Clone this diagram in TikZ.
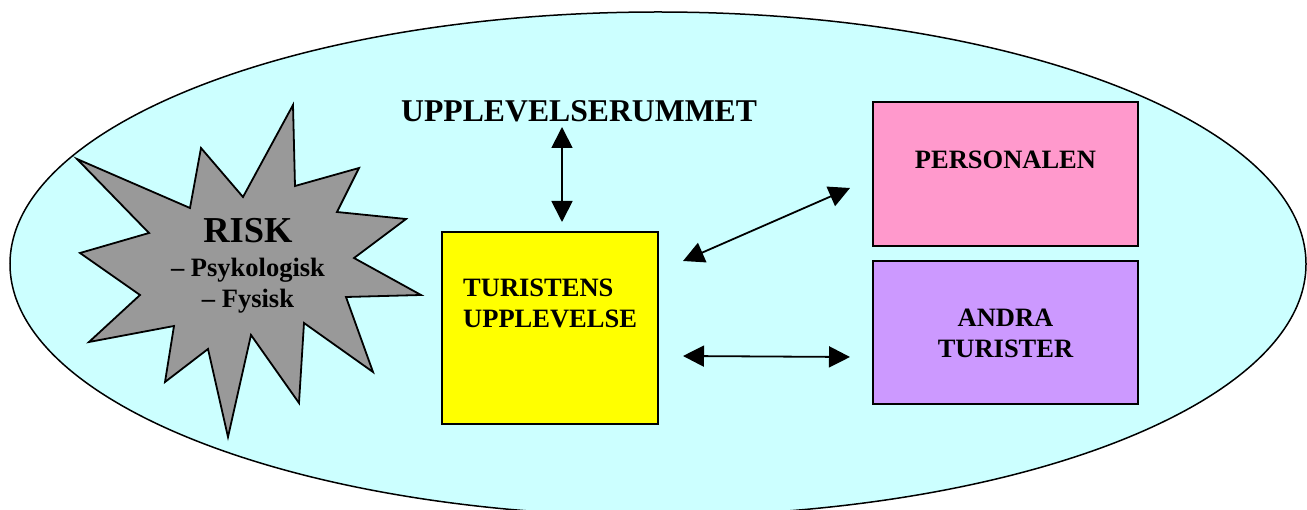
\documentclass[tikz,border=0pt]{standalone}
\usepackage{fontspec}
\setmainfont{Liberation Serif}
\usetikzlibrary{arrows.meta}
\definecolor{bgcyan}{HTML}{CCFFFF}
\definecolor{stargray}{HTML}{999999}
\definecolor{boxyellow}{HTML}{FFFF00}
\definecolor{boxpink}{HTML}{FF99CC}
\definecolor{boxpurple}{HTML}{CC99FF}
\tikzset{
  boxnode/.style={draw=black, line width=1.8pt, anchor=north west, inner sep=0pt, outer sep=0pt},
  lbl/.style={font=\bfseries\fontsize{26.5}{31}\selectfont, inner sep=0pt, align=center},
  dblarrow/.style={line width=1.8pt, {Triangle[length=21pt,width=21pt]}-{Triangle[length=21pt,width=21pt]}, shorten <=0pt, shorten >=0pt}
}
\begin{document}
\begin{tikzpicture}[x=1pt,y=-1pt]
\useasboundingbox (0,0) rectangle (1307,510);
% outer ellipse
\draw[fill=bgcyan, line width=1.5pt] (658,264) ellipse [x radius=648pt, y radius=252pt];
% star
\draw[fill=stargray, line width=1.8pt, line join=miter]
 (293,105) -- (295,186) -- (359,168) -- (337,212) -- (406,219) -- (354,258) --
 (421,295) -- (346,297) -- (373,372) -- (304,323) -- (299,403) -- (251,335) --
 (228,437) -- (208,349) -- (165,382) -- (174,326) -- (89,342) -- (140,295) --
 (80,253) -- (149,233) -- (77,159) -- (190,208) -- (201,148) -- (243,197) -- cycle;
\node[font=\bfseries\fontsize{36.5}{36}\selectfont, inner sep=0pt, anchor=base] (risk) at (248,243) {RISK};
\node[lbl, anchor=base] (psyk) at (248,277) {– Psykologisk};
\node[lbl, anchor=base] (fys) at (248,308) {– Fysisk};
% title
\node[font=\bfseries\fontsize{31.7}{36}\selectfont, inner sep=0pt, anchor=base west] (title) at (401,122) {UPPLEVELSERUMMET};
% boxes
\node[boxnode, fill=boxyellow, minimum width=216pt, minimum height=192pt] (tur) at (442,232) {};
\node[boxnode, fill=boxpink, minimum width=265pt, minimum height=144pt] (pers) at (873,102) {};
\node[boxnode, fill=boxpurple, minimum width=265pt, minimum height=143pt] (andra) at (873,261) {};
% labels
\node[lbl, align=left, anchor=base west] (turl1) at (463,297) {TURISTENS};
\node[lbl, align=left, anchor=base west] (turl2) at (463,328) {UPPLEVELSE};
\node[lbl, anchor=base] (persl) at (1005.5,169) {PERSONALEN};
\node[lbl, anchor=base] (andral1) at (1005.5,327) {ANDRA};
\node[lbl, anchor=base] (andral2) at (1005.5,358) {TURISTER};
% arrow end points
\coordinate (a1s) at (562,127);
\coordinate (a1e) at (562,222);
\coordinate (a2s) at (683,261);
\coordinate (a2e) at (850,188);
\coordinate (a3s) at (683,356);
\coordinate (a3e) at (850,357);
\draw[dblarrow] (a1s) -- (a1e);
\draw[dblarrow] (a2s) -- (a2e);
\draw[dblarrow] (a3s) -- (a3e);
\end{tikzpicture}
\end{document}
